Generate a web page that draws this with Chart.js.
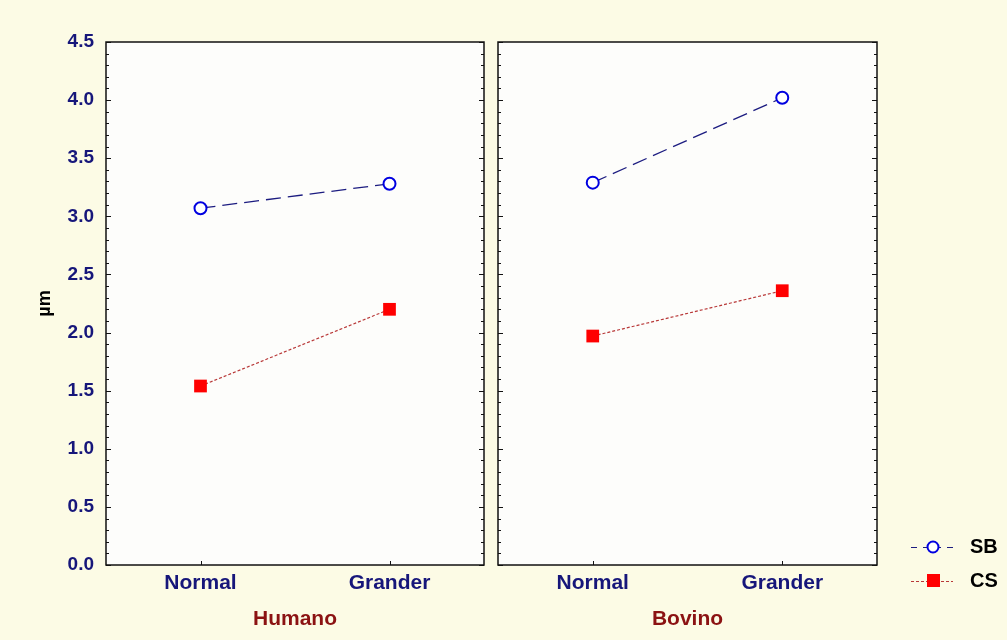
<!DOCTYPE html>
<html><head><meta charset="utf-8">
<script src="https://cdn.jsdelivr.net/npm/chart.js@4"></script>
<style>
html,body{margin:0;padding:0;background:#fcfbe5;}
#wrap{position:relative;width:1007px;height:640px;}
canvas{position:absolute;left:0;top:0;}
</style></head>
<body><div id="wrap"><canvas id="c1" width="1007" height="640"></canvas><canvas id="c2" width="1007" height="640"></canvas></div>
<script>
const categories = ['Normal', 'Grander'];
const panelTitles = ['Humano', 'Bovino'];
const seriesNames = ['SB', 'CS'];
const sbHumano = [3.07, 3.28];
const csHumano = [1.54, 2.20];
const sbBovino = [3.29, 4.02];
const csBovino = [1.97, 2.36];
const yMin = 0, yMax = 4.5, yStep = 0.5;
const yAxisTitle = 'µm';

const NAVY = '#16167a';
const FONT = 'Liberation Sans, Arial, sans-serif';

const sbStyle = {borderColor:'#1c1c80', borderWidth:1.3, borderDash:[15,7], pointStyle:'circle', pointRadius:6, pointBorderWidth:2, pointBorderColor:'#0000e0', pointBackgroundColor:'#ffffff'};
const csStyle = {borderColor:'#b83838', borderWidth:1.2, borderDash:[3,2], pointStyle:'rect', pointRadius:9, pointBorderWidth:0, pointBorderColor:'#ff0000', pointBackgroundColor:'#ff0000'};

const boxPlugin = {
  id:'box',
  beforeDraw(chart){
    const a = chart.chartArea, ctx = chart.ctx;
    ctx.save(); ctx.fillStyle = '#fdfdfb'; ctx.fillRect(a.left, a.top, a.right-a.left, a.bottom-a.top); ctx.restore();
  },
  afterDatasetsDraw(chart){
    const a = chart.chartArea, ctx = chart.ctx, y = chart.scales.y, x = chart.scales.x;
    ctx.save();
    ctx.strokeStyle = '#111'; ctx.lineWidth = 1.5;
    ctx.strokeRect(a.left, a.top, a.right-a.left, a.bottom-a.top);
    ctx.lineWidth = 1;
    const n = Math.round((yMax - yMin) / 0.1);
    for (let i = 0; i <= n; i++) {
      const py = Math.round(y.getPixelForValue(yMin + i*0.1)) + 0.5;
      const len = (i % 5 === 0) ? 5 : 3;
      ctx.beginPath();
      ctx.moveTo(a.left, py); ctx.lineTo(a.left+len, py);
      ctx.moveTo(a.right, py); ctx.lineTo(a.right-len, py);
      ctx.stroke();
    }
    categories.forEach((c, i) => {
      const px = Math.round(x.getPixelForValue(i)) + 0.5;
      ctx.beginPath(); ctx.moveTo(px, a.bottom); ctx.lineTo(px, a.bottom-4); ctx.stroke();
    });
    ctx.restore();
  }
};

const legendPlugin = {
  id:'customLegend',
  afterDraw(chart){
    const ctx = chart.ctx;
    const items = chart.data.datasets;
    const rows = [547, 581];
    ctx.save();
    items.forEach((ds, i) => {
      const cy = rows[i];
      ctx.strokeStyle = ds.borderColor; ctx.lineWidth = 1;
      ctx.setLineDash(i === 0 ? [6,6] : [3,2]);
      ctx.beginPath(); ctx.moveTo(911, cy+0.5); ctx.lineTo(953, cy+0.5); ctx.stroke();
      ctx.setLineDash([]);
      if (ds.pointStyle === 'circle') {
        ctx.fillStyle = ds.pointBackgroundColor; ctx.strokeStyle = ds.pointBorderColor; ctx.lineWidth = 2;
        ctx.beginPath(); ctx.arc(933, cy, 5.5, 0, Math.PI*2); ctx.fill(); ctx.stroke();
      } else {
        ctx.fillStyle = ds.pointBackgroundColor;
        ctx.fillRect(927, cy-7, 13, 13);
      }
      ctx.fillStyle = '#000'; ctx.font = 'bold 20px ' + FONT;
      ctx.textBaseline = 'middle'; ctx.textAlign = 'left';
      ctx.fillText(ds.label, 970, cy);
    });
    ctx.restore();
  }
};

function makeChart(id, sb, cs, title, showY, pad, extraPlugins){
  return new Chart(document.getElementById(id), {
    type:'line',
    data:{labels:categories, datasets:[
      Object.assign({label:seriesNames[0], data:sb}, sbStyle),
      Object.assign({label:seriesNames[1], data:cs}, csStyle)
    ]},
    options:{
      responsive:false, animation:false, events:[],
      layout:{padding:pad},
      plugins:{legend:{display:false}, tooltip:{enabled:false}},
      scales:{
        x:{
          offset:true,
          grid:{display:false, drawTicks:false},
          border:{display:false},
          ticks:{color:NAVY, font:{family:FONT, size:21, weight:'bold'}, padding:6, maxRotation:0},
          title:{display:true, text:title, color:'#8b1212', font:{family:FONT, size:21, weight:'bold'}, padding:{top:4, bottom:8}},
          afterFit(s){ s.height = 75; }
        },
        y:{
          display:showY, min:yMin, max:yMax,
          grid:{display:false, drawTicks:false},
          border:{display:false},
          ticks:{stepSize:yStep, color:NAVY, font:{family:FONT, size:19, weight:'bold'}, padding:12, callback:v => Number(v).toFixed(1)},
          title:{display:showY, text:yAxisTitle, color:'#000', font:{family:FONT, size:18, weight:'bold'}, padding:{top:34, bottom:0}},
          afterFit(s){ if (showY) s.width = 106; }
        }
      }
    },
    plugins:[boxPlugin].concat(extraPlugins)
  });
}

makeChart('c1', sbHumano, csHumano, panelTitles[0], true, {left:0, top:42, right:1007-484, bottom:0}, []);
makeChart('c2', sbBovino, csBovino, panelTitles[1], false, {left:498, top:42, right:1007-877, bottom:0}, [legendPlugin]);
</script></body></html>
